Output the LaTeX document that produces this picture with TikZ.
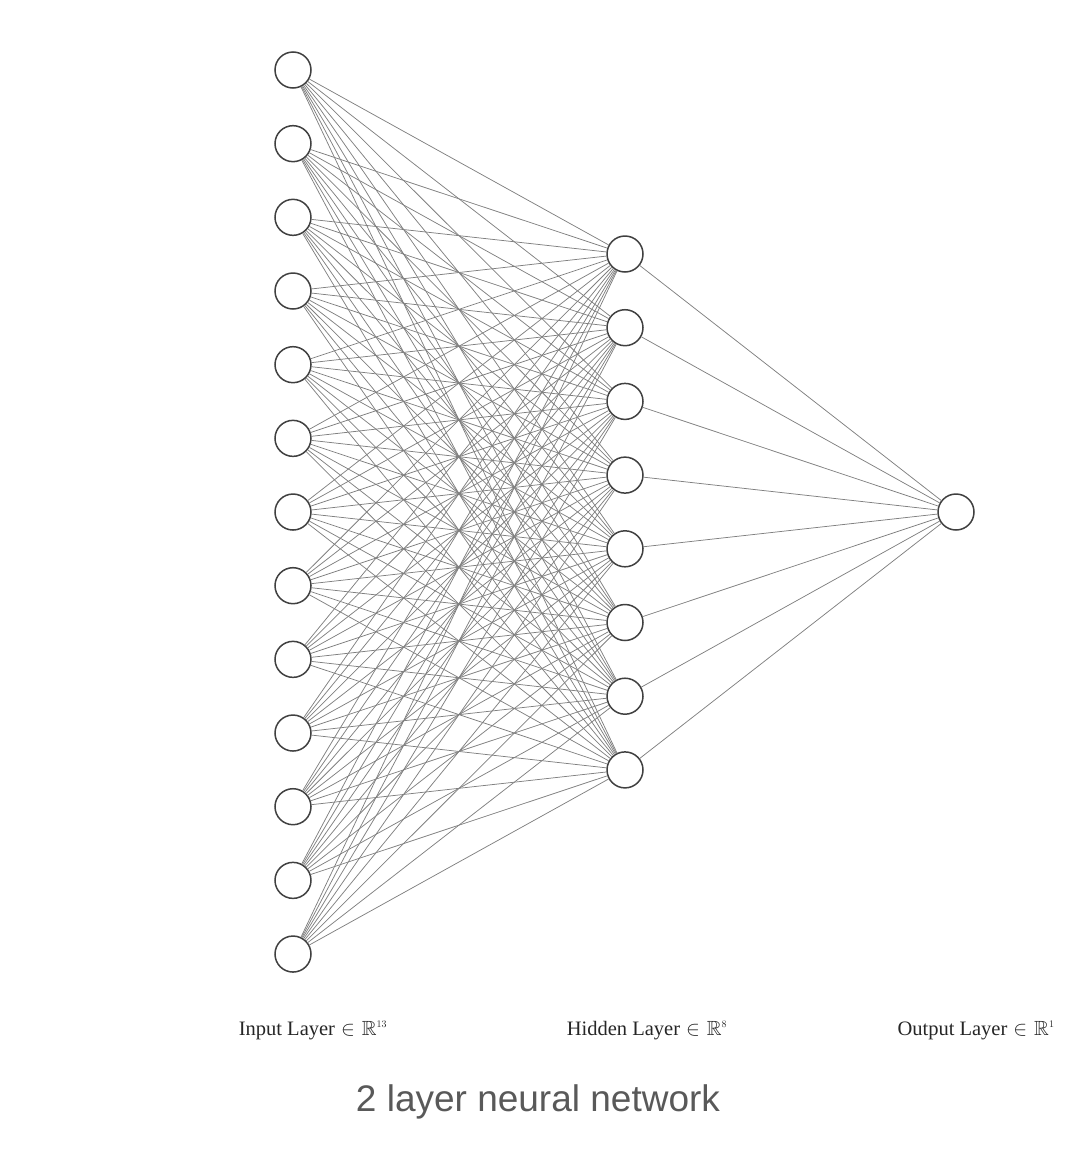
\documentclass[tikz,border=0pt]{standalone}
\usepackage{amssymb}
\usepackage{fontspec}
\setmainfont{Liberation Serif}
\newfontfamily\capfont{Liberation Sans}
\newcommand{\inR}[1]{\hspace{6pt}$\in$\hspace{7pt}$\mathbb{R}^{\scriptscriptstyle #1}$}
\begin{document}
\begin{tikzpicture}[x=1pt,y=-1pt,
  neuron/.style={circle,draw=black!75,line width=1.5pt,fill=white,minimum size=36pt,inner sep=0pt},
  wire/.style={draw=black!50,line width=0.75pt},
  layerlabel/.style={anchor=base,font=\fontsize{20.5}{24}\selectfont,text=black!85,inner sep=0pt},
  caption/.style={anchor=base,font=\capfont\fontsize{37}{42}\selectfont,text=black!65,inner sep=0pt}]
\useasboundingbox (0,0) rectangle (1078,1170);
\foreach \i in {1,...,13} {
  \node[neuron] (in\i) at (293,{70+(\i-1)*73.67}) {};
}
\foreach \j in {1,...,8} {
  \node[neuron] (hid\j) at (625,{254+(\j-1)*73.7}) {};
}
\node[neuron] (out) at (956,512) {};
\foreach \i in {1,...,13} {
  \foreach \j in {1,...,8} {
    \draw[wire] (in\i) -- (hid\j);
  }
}
\foreach \j in {1,...,8} {
  \draw[wire] (hid\j) -- (out);
}
\node[layerlabel] (lin) at (313,1035) {Input Layer\inR{13}};
\node[layerlabel] (lhid) at (647,1035) {Hidden Layer\inR{8}};
\node[layerlabel] (lout) at (976,1035) {Output Layer\inR{1}};
\node[caption] (cap) at (538,1111) {2 layer neural network};
\end{tikzpicture}
\end{document}
